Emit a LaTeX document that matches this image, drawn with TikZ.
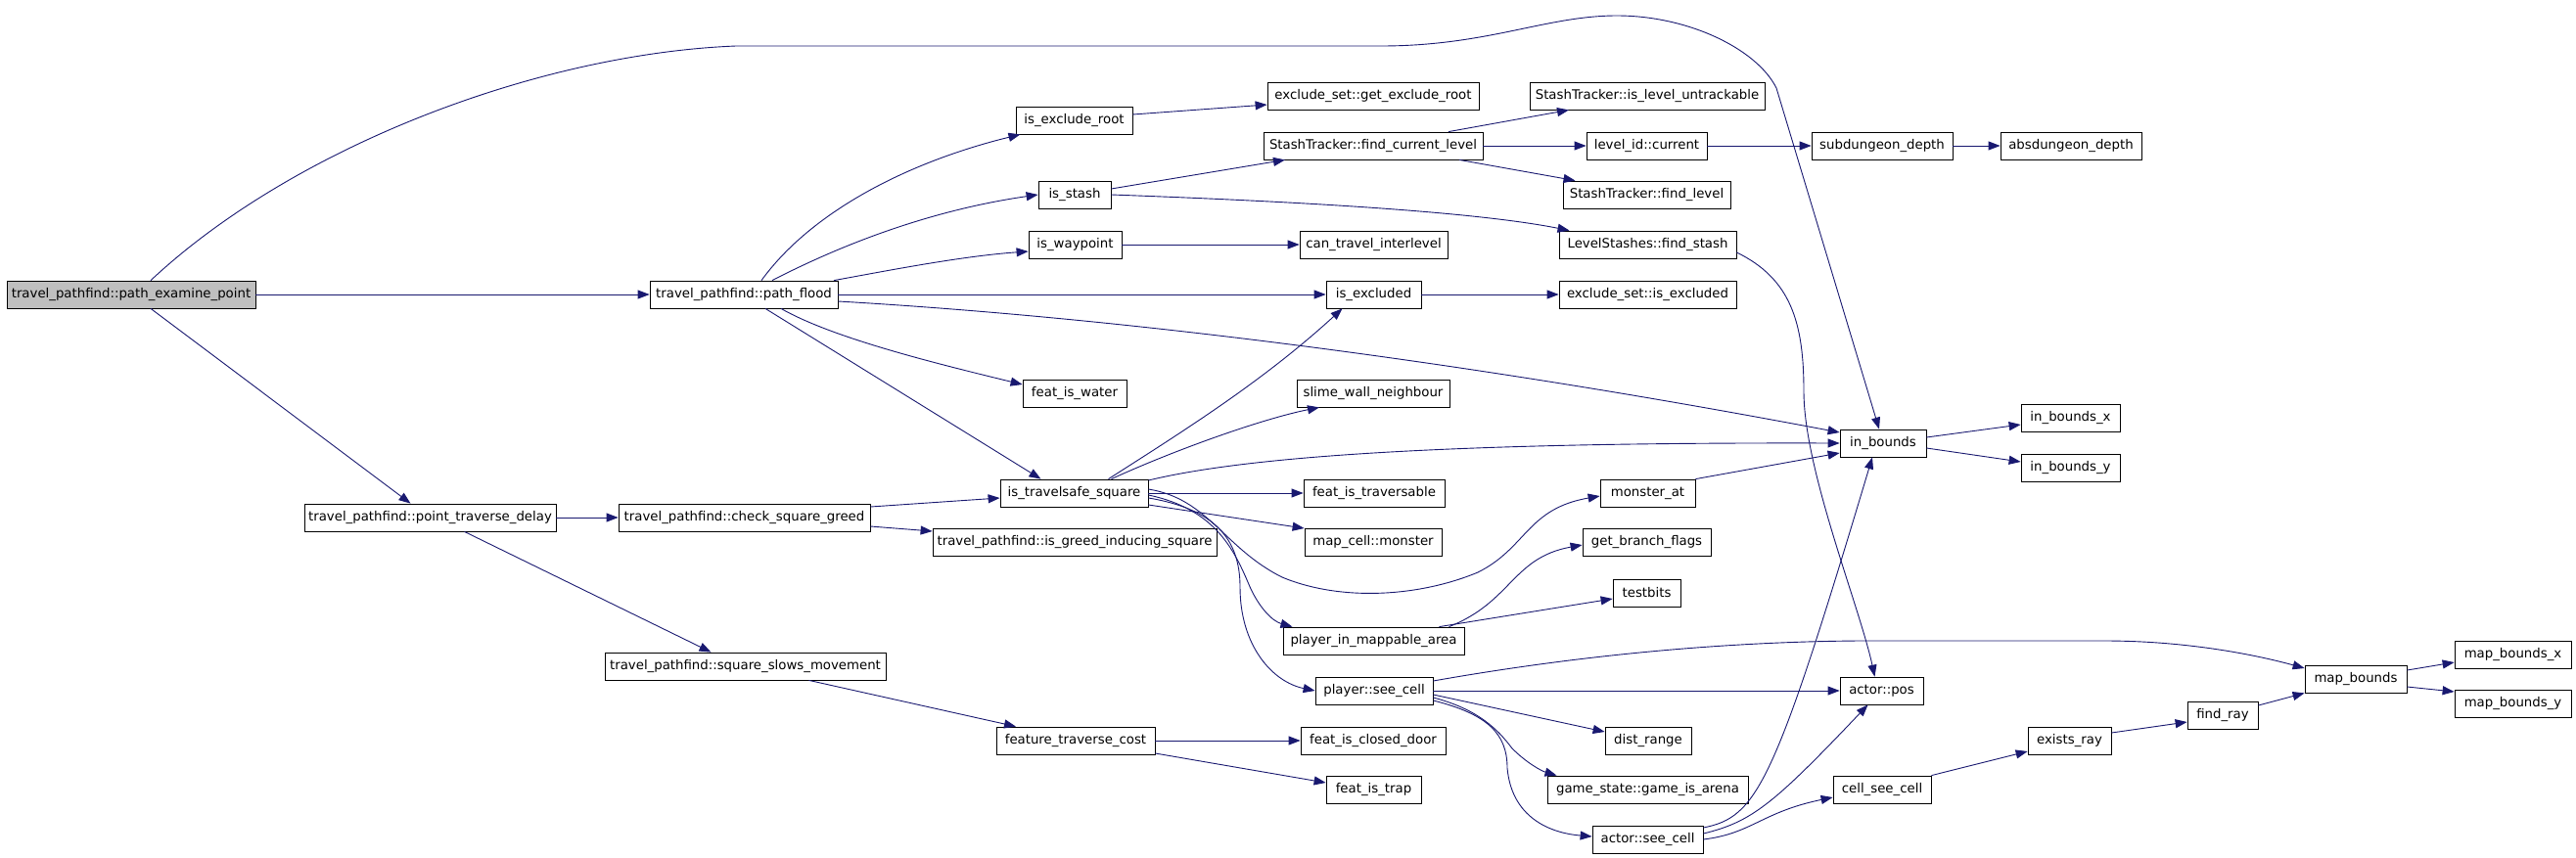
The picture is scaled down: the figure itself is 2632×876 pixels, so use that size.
\documentclass[tikz,border=0pt]{standalone}
\usepackage{fontspec}
\setmainfont{DejaVu Sans}
\usepackage{tikz}
\usetikzlibrary{arrows.meta}

\definecolor{edgeblue}{HTML}{191970}
\definecolor{rootgray}{HTML}{BFBFBF}

\begin{document}
\begin{tikzpicture}
  [x=1pt, y=-1pt, every node/.style={draw, rectangle, fill=white, inner sep=0pt,
   minimum height=28pt, line width=0.8pt, font=\fontsize{13.3}{15}\selectfont}]

  \tikzstyle{root} = [fill=rootgray]
  \tikzstyle{call} = [-{Triangle[length=12pt,width=9pt]}, edgeblue, line width=0.9pt]

  \useasboundingbox (0,0) rectangle (2632,876);

  % caller and the travel_pathfind column
  \node[root, minimum width=254pt] (pep)  at (134,301)   {travel\_pathfind::path\_examine\_point};
  \node[minimum width=192pt]       (pflood) at (760,301) {travel\_pathfind::path\_flood};
  \node[minimum width=257pt]       (ptd)  at (439.5,529) {travel\_pathfind::point\_traverse\_delay};
  \node[minimum width=257pt]       (csg)  at (760.5,529) {travel\_pathfind::check\_square\_greed};
  \node[minimum width=287pt]       (ssm)  at (761.5,681) {travel\_pathfind::square\_slows\_movement};

  \node[minimum width=119pt] (ier)    at (1097.5,123) {is\_exclude\_root};
  \node[minimum width=74pt]  (istash) at (1098,199)   {is\_stash};
  \node[minimum width=95pt]  (iwp)    at (1098.5,250) {is\_waypoint};
  \node[minimum width=106pt] (fiw)    at (1098,402)   {feat\_is\_water};
  \node[minimum width=151pt] (its)    at (1097.5,504) {is\_travelsafe\_square};
  \node[minimum width=290pt] (igis)   at (1098,554)   {travel\_pathfind::is\_greed\_inducing\_square};
  \node[minimum width=162pt] (ftc)    at (1099,757)   {feature\_traverse\_cost};

  \node[minimum width=216pt] (gexr)  at (1403,98)    {exclude\_set::get\_exclude\_root};
  \node[minimum width=224pt] (fcl)   at (1403,149)   {StashTracker::find\_current\_level};
  \node[minimum width=151pt] (cti)   at (1403.5,250) {can\_travel\_interlevel};
  \node[minimum width=97pt]  (iexc)  at (1403.5,301) {is\_excluded};
  \node[minimum width=156pt] (swn)   at (1403,402)   {slime\_wall\_neighbour};
  \node[minimum width=144pt] (fit)   at (1404,504)   {feat\_is\_traversable};
  \node[minimum width=140pt] (mcm)   at (1403,554)   {map\_cell::monster};
  \node[minimum width=185pt] (pima)  at (1403.5,655) {player\_in\_mappable\_area};
  \node[minimum width=120pt] (psc)   at (1404,706)   {player::see\_cell};
  \node[minimum width=148pt] (ficd)  at (1403,757)   {feat\_is\_closed\_door};
  \node[minimum width=97pt]  (ftrap) at (1403.5,807) {feat\_is\_trap};

  \node[minimum width=240pt] (islu) at (1683,98)    {StashTracker::is\_level\_untrackable};
  \node[minimum width=123pt] (lic)  at (1682.5,149) {level\_id::current};
  \node[minimum width=171pt] (fl)   at (1682.5,199) {StashTracker::find\_level};
  \node[minimum width=181pt] (fst)  at (1683.5,250) {LevelStashes::find\_stash};
  \node[minimum width=181pt] (esie) at (1683.5,301) {exclude\_set::is\_excluded};
  \node[minimum width=97pt]  (mat)  at (1683.5,504) {monster\_at};
  \node[minimum width=131pt] (gbf)  at (1682.5,554) {get\_branch\_flags};
  \node[minimum width=69pt]  (tb)   at (1682.5,606) {testbits};
  \node[minimum width=88pt]  (dr)   at (1684,757)   {dist\_range};
  \node[minimum width=205pt] (gia)  at (1683.5,807) {game\_state::game\_is\_arena};
  \node[minimum width=113pt] (ase)  at (1683.5,858) {actor::see\_cell};

  \node[minimum width=144pt] (sdd)  at (1923,149)   {subdungeon\_depth};
  \node[minimum width=88pt]  (inb)  at (1924,453)   {in\_bounds};
  \node[minimum width=85pt]  (apos) at (1922.5,706) {actor::pos};
  \node[minimum width=100pt] (csc)  at (1923,807)   {cell\_see\_cell};

  \node[minimum width=144pt] (add)  at (2116,149)   {absdungeon\_depth};
  \node[minimum width=101pt] (ibx)  at (2115.5,427) {in\_bounds\_x};
  \node[minimum width=101pt] (iby)  at (2115.5,478) {in\_bounds\_y};
  \node[minimum width=85pt]  (eray) at (2114.5,757) {exists\_ray};
  \node[minimum width=72pt]  (fray) at (2271,731)   {find\_ray};
  \node[minimum width=104pt] (mb)   at (2407,694)   {map\_bounds};
  \node[minimum width=119pt] (mbx)  at (2567.5,669) {map\_bounds\_x};
  \node[minimum width=119pt] (mby)  at (2567.5,719) {map\_bounds\_y};

  % straight calls
  \path[call]
        (pep) edge (pflood)
        ([xshift=20pt]pep.south) edge ([xshift=-20pt]ptd.north)
        (pflood) edge (iexc)
        ([xshift=22pt]pflood.south) edge ([xshift=-34pt]its.north)
        ([yshift=6pt]ier.east) edge ([yshift=-9pt]gexr.west)
        ([yshift=6pt]istash.east) edge ([xshift=-90pt]fcl.south)
        ([xshift=77pt]fcl.north) edge ([xshift=-80pt]islu.south)
        (fcl) edge (lic)
        ([xshift=88pt]fcl.south) edge ([xshift=-73pt]fl.north)
        (lic) edge (sdd)
        (sdd) edge (add)
        (iwp) edge (cti)
        (iexc) edge (esie)
        (ptd) edge (csg)
        ([xshift=35pt]ptd.south) edge ([xshift=-35pt]ssm.north)
        ([yshift=11pt]csg.east) edge ([yshift=-5pt]its.west)
        ([yshift=-9pt]csg.east) edge ([yshift=11pt]igis.west)
        (its) edge (fit)
        ([yshift=-12pt]its.east) edge ([yshift=14pt]mcm.west)
        (mat.north east) edge ([yshift=-10pt]inb.west)
        ([xshift=67pt]pima.north) edge ([yshift=-6pt]tb.west)
        (psc) edge (apos)
        ([yshift=-4pt]psc.east) edge ([yshift=9pt]dr.west)
        ([xshift=65pt]ssm.south) edge ([xshift=-61pt]ftc.north)
        (ftc) edge (ficd)
        ([yshift=-13pt]ftc.east) edge ([yshift=7pt]ftrap.west)
        (csc.north east) edge ([yshift=-11pt]eray.west)
        ([yshift=8pt]eray.east) edge ([yshift=-7pt]fray.west)
        ([yshift=10pt]fray.east) edge (mb.south west)
        ([yshift=9pt]mb.east) edge ([yshift=-8pt]mbx.west)
        ([yshift=-8pt]mb.east) edge ([yshift=12pt]mby.west)
        ([yshift=6pt]inb.east) edge ([yshift=-7pt]ibx.west)
        ([yshift=-5pt]inb.east) edge ([yshift=6pt]iby.west);

  % curved calls
  \draw[call] ([xshift=20pt]pep.north) .. controls (300,150) and (550,55) .. (752,47) -- (1411,47)
        .. controls (1520,47) and (1580,16) .. (1652,16)
        .. controls (1725,16) and (1795,50) .. (1815,90) -- ([xshift=-4pt]inb.north);
  \draw[call] ([xshift=18pt]pflood.north) .. controls (830,215) and (930,165) .. ([xshift=-55pt]ier.south);
  \draw[call] ([xshift=29pt]pflood.north) .. controls (860,250) and (950,215) .. (istash.west);
  \draw[call] ([xshift=92pt]pflood.north) .. controls (900,278) and (980,262) .. ([yshift=-7pt]iwp.west);
  \draw[call] ([yshift=-7pt]pflood.east) .. controls (1150,325) and (1500,370) .. ([yshift=11pt]inb.west);
  \draw[call] ([xshift=38pt]pflood.south) .. controls (850,345) and (950,370) .. ([yshift=9pt]fiw.west);
  \draw[call] (istash.east) .. controls (1300,205) and (1500,215) .. ([xshift=-80pt]fst.north);
  \draw[call] ([yshift=-8pt]fst.east) .. controls (1830,285) and (1843,330) .. (1843,400)
        .. controls (1843,480) and (1900,620) .. ([xshift=-7pt]apos.north);
  \draw[call] ([xshift=35pt]its.north) .. controls (1210,440) and (1290,390) .. ([xshift=-32pt]iexc.south);
  \draw[call] ([xshift=38pt]its.north) .. controls (1200,460) and (1290,428) .. ([xshift=-55pt]swn.south);
  \draw[call] ([yshift=13pt]its.east) .. controls (1280,465) and (1500,452) .. (inb.west);
  \draw[call] ([yshift=4pt]its.east) .. controls (1235,510) and (1250,560) .. (1310,590)
        .. controls (1370,615) and (1450,610) .. (1510,585)
        .. controls (1560,560) and (1560,520) .. ([yshift=-3pt]mat.west);
  \draw[call] ([yshift=-2pt]its.east) .. controls (1240,520) and (1260,560) .. (1275,595)
        .. controls (1285,620) and (1300,635) .. ([xshift=-83pt]pima.north);
  \draw[call] ([yshift=-5pt]its.east) .. controls (1240,520) and (1267,550) .. (1267,600)
        .. controls (1267,660) and (1300,697) .. (psc.west);
  \draw[call] ([xshift=77pt]pima.north) .. controls (1545,615) and (1545,570) .. ([yshift=-3pt]gbf.west);
  \draw[call] ([yshift=10pt]psc.east) .. controls (1600,672) and (1750,656) .. (1900,655) -- (2150,655)
        .. controls (2230,655) and (2300,668) .. ([yshift=11pt]mb.west);
  \draw[call] ([yshift=-7pt]psc.east) .. controls (1510,725) and (1530,745) .. (1545,765)
        .. controls (1560,780) and (1575,788) .. ([xshift=-93pt]gia.north);
  \draw[call] ([yshift=-10pt]psc.east) .. controls (1520,730) and (1540,750) .. (1540,785)
        .. controls (1545,840) and (1590,852) .. ([yshift=3pt]ase.west);
  \draw[call] ([yshift=12pt]ase.east) .. controls (1795,835) and (1812,805) .. ([xshift=-11pt]inb.south);
  \draw[call] ([yshift=6pt]ase.east) .. controls (1790,840) and (1812,822) .. ([xshift=-14pt]apos.south);
  \draw[call] (ase.east) .. controls (1790,852) and (1800,830) .. ([yshift=-8pt]csc.west);
\end{tikzpicture}
\end{document}
